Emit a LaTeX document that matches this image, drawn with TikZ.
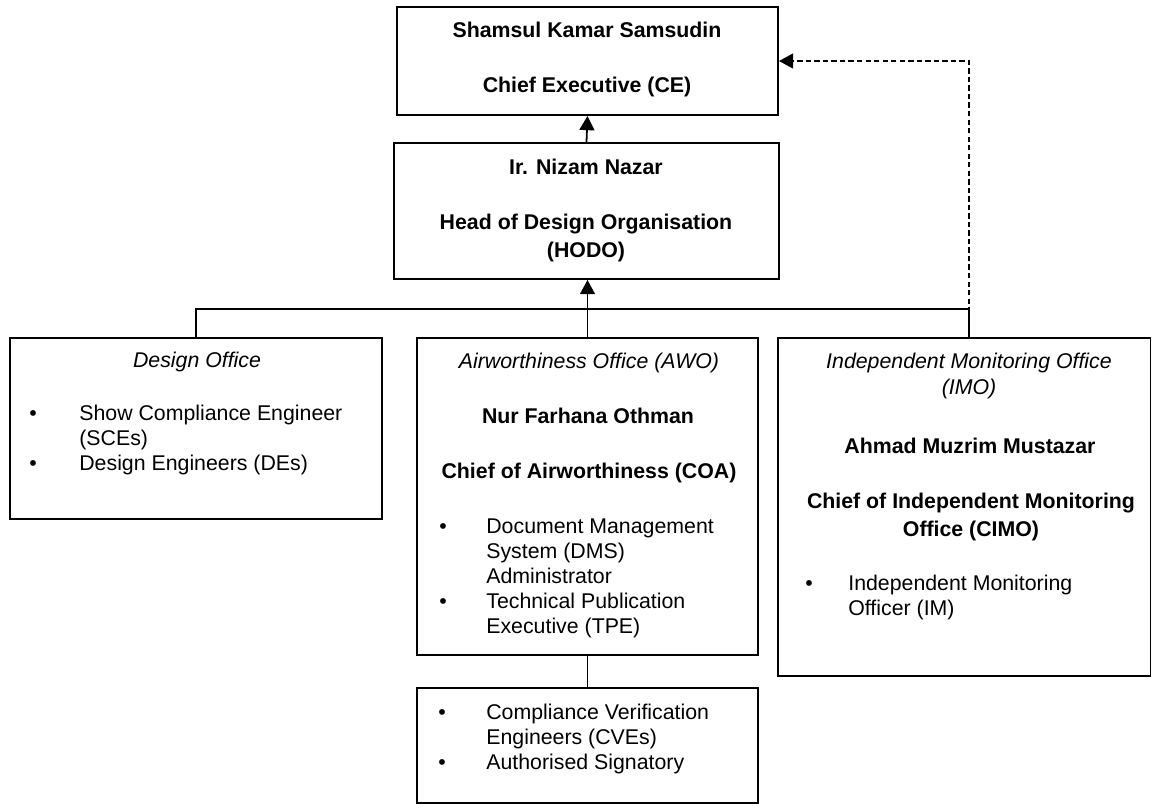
\documentclass[tikz,border=0pt]{standalone}
\usepackage{fontspec}
\setmainfont{Liberation Sans}
\usetikzlibrary{arrows.meta,fit}
\begin{document}
\begin{tikzpicture}[x=0.563pt,y=-0.563pt,
  box/.style={draw, line width=1.1pt, inner sep=0pt, rectangle},
  conn/.style={line width=1pt},
  arr/.style={conn, -{Triangle[length=8pt,width=8.4pt]}},
  dsh/.style={conn, dash pattern=on 3pt off 1.8pt, -{Triangle[length=8pt,width=8.4pt]}},
  bt/.style={anchor=base, inner sep=0pt, font=\fontsize{12pt}{13.8pt}\selectfont\bfseries},
  itl/.style={anchor=base, inner sep=0pt, font=\fontsize{12pt}{13.8pt}\selectfont\itshape},
  tx/.style={anchor=base west, inner sep=0pt, font=\fontsize{12pt}{13.8pt}\selectfont},
  bul/.style={anchor=base, inner sep=0pt, font=\fontsize{12pt}{13.8pt}\selectfont}
]
\useasboundingbox (0,0) rectangle (1152,804);

% boxes
\node[box, fit={(397,7)(778,115)}] (ce) {};
\node[box, fit={(394,143)(779,279)}] (hodo) {};
\node[box, fit={(10,338)(382,519)}] (dof) {};
\node[box, fit={(417,338)(758,655)}] (awo) {};
\node[box, fit={(778,338)(1150.5,676)}] (imo) {};
\node[box, fit={(417,688)(758,803)}] (cve) {};

% CE text
\node[bt] (ce1) at (587,38) {Shamsul Kamar Samsudin};
\node[bt] (ce2) at (587,93) {Chief Executive (CE)};

% HODO text
\node[bt] (h1) at (586,175) {Ir. Nizam Nazar};
\node[bt] (h2) at (586,230) {Head of Design Organisation};
\node[bt] (h3) at (586,258) {(HODO)};

% Design Office
\node[itl] (d0) at (197,368) {Design Office};
\node[bul] (db1) at (33,421) {\textbullet};
\node[tx] (dt1) at (79,421) {Show Compliance Engineer};
\node[tx] (dt2) at (79,446) {(SCEs)};
\node[bul] (db2) at (33,471) {\textbullet};
\node[tx] (dt3) at (79,471) {Design Engineers (DEs)};

% AWO
\node[itl] (a0) at (589,369) {Airworthiness Office (AWO)};
\node[bt] (a1) at (588,424) {Nur Farhana Othman};
\node[bt] (a2) at (589,479) {Chief of Airworthiness (COA)};
\node[bul] (ab1) at (443,534) {\textbullet};
\node[tx] (at1) at (486,534) {Document Management};
\node[tx] (at2) at (486,559) {System (DMS)};
\node[tx] (at3) at (486,584) {Administrator};
\node[bul] (ab2) at (443,609) {\textbullet};
\node[tx] (at4) at (486,609) {Technical Publication};
\node[tx] (at5) at (486,634) {Executive (TPE)};

% IMO
\node[itl] (i0) at (969,369) {Independent Monitoring Office};
\node[itl] (i1) at (969,395) {(IMO)};
\node[bt] (i2) at (970,454) {Ahmad Muzrim Mustazar};
\node[bt] (i3) at (971,509) {Chief of Independent Monitoring};
\node[bt] (i4) at (971,537) {Office (CIMO)};
\node[bul] (ib1) at (809,591) {\textbullet};
\node[tx] (it1) at (848,591) {Independent Monitoring};
\node[tx] (it2) at (848,616) {Officer (IM)};

% CVE
\node[bul] (cb1) at (442,720) {\textbullet};
\node[tx] (ct1) at (486,720) {Compliance Verification};
\node[tx] (ct2) at (486,745) {Engineers (CVEs)};
\node[bul] (cb2) at (442,770) {\textbullet};
\node[tx] (ct3) at (486,770) {Authorised Signatory};

% connectors
\coordinate (bus) at (588,309);
\coordinate (imoup) at (969,338);
\draw[arr] (hodo.north) -- (ce.south);
\draw[arr] (awo.north) -- (awo.north |- hodo.south);
\draw[conn] (dof.north) |- (bus) -| (imoup);
\draw[dsh] (imoup) |- (ce.east);
\draw[conn] (awo.south) -- (cve.north);
\end{tikzpicture}
\end{document}
